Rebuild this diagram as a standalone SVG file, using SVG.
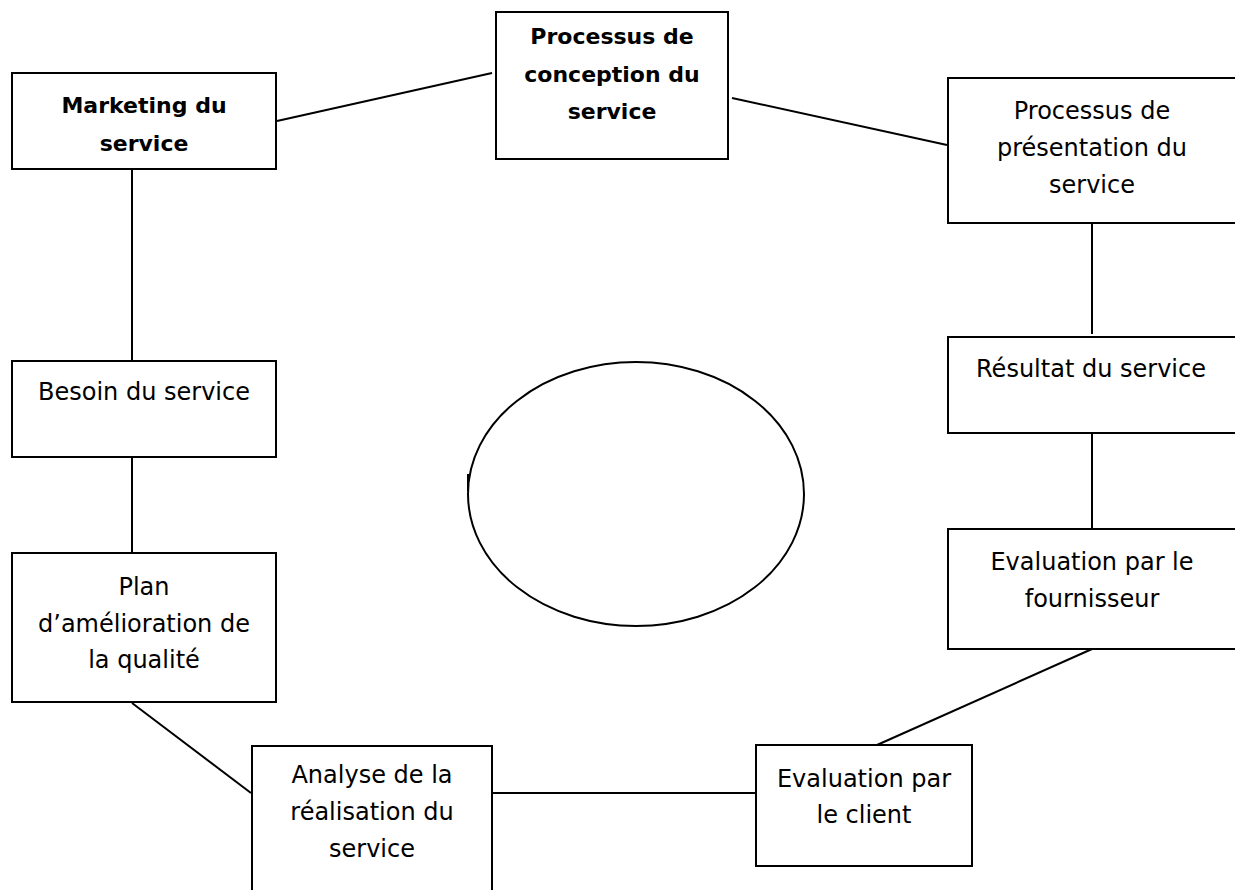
<svg xmlns="http://www.w3.org/2000/svg" width="1235" height="890" viewBox="0 0 1235 890">
  <style>
    .box { fill: #ffffff; stroke: #000000; stroke-width: 2; }
    .conn line, .conn path { stroke: #000000; stroke-width: 2; fill: none; }
    .t { font-family: "Comic Sans MS", "DejaVu Sans", sans-serif; font-size: 24px; fill: #000000; text-anchor: middle; }
    .b { font-weight: bold; font-size: 22px; }
  </style>
  <rect width="1235" height="890" fill="#ffffff"/>

  <g id="connectors" class="conn">
    <line x1="277" y1="121" x2="492" y2="73"/>
    <line x1="732" y1="98" x2="947" y2="145"/>
    <line x1="1092" y1="223" x2="1092" y2="334"/>
    <line x1="1092" y1="433" x2="1092" y2="529"/>
    <line x1="1092" y1="649" x2="877" y2="745"/>
    <line x1="492" y1="793" x2="756" y2="793"/>
    <line x1="132" y1="703" x2="251" y2="793"/>
    <line x1="132" y1="169" x2="132" y2="361"/>
    <line x1="132" y1="457" x2="132" y2="553"/>
  </g>

  <g id="center-ellipse">
    <ellipse cx="636" cy="494" rx="168" ry="132" fill="none" stroke="#000000" stroke-width="2"/>
    <line x1="468" y1="474" x2="468" y2="491" stroke="#000000" stroke-width="2"/>
  </g>

  <g id="marketing">
    <rect class="box" x="12" y="73" width="264" height="96"/>
    <text class="t b" x="144" y="113">Marketing du</text>
    <text class="t b" x="144" y="151">service</text>
  </g>

  <g id="conception">
    <rect class="box" x="496" y="12" width="232" height="147"/>
    <text class="t b" x="612" y="44">Processus de</text>
    <text class="t b" x="612" y="82">conception du</text>
    <text class="t b" x="612" y="119">service</text>
  </g>

  <g id="presentation">
    <rect class="box" x="948" y="78" width="290" height="145"/>
    <text class="t" x="1092" y="119">Processus de</text>
    <text class="t" x="1092" y="156">présentation du</text>
    <text class="t" x="1092" y="193">service</text>
  </g>

  <g id="resultat">
    <rect class="box" x="948" y="337" width="290" height="96"/>
    <text class="t" x="1091" y="377">Résultat du service</text>
  </g>

  <g id="eval-fournisseur">
    <rect class="box" x="948" y="529" width="290" height="120"/>
    <text class="t" x="1092" y="570">Evaluation par le</text>
    <text class="t" x="1092" y="607">fournisseur</text>
  </g>

  <g id="eval-client">
    <rect class="box" x="756" y="745" width="216" height="121"/>
    <text class="t" x="864" y="787">Evaluation par</text>
    <text class="t" x="864" y="823">le client</text>
  </g>

  <g id="analyse">
    <rect class="box" x="252" y="746" width="240" height="160"/>
    <text class="t" x="372" y="783">Analyse de la</text>
    <text class="t" x="372" y="820">réalisation du</text>
    <text class="t" x="372" y="857">service</text>
  </g>

  <g id="plan">
    <rect class="box" x="12" y="553" width="264" height="149"/>
    <text class="t" x="144" y="595">Plan</text>
    <text class="t" x="144" y="632">d’amélioration de</text>
    <text class="t" x="144" y="668">la qualité</text>
  </g>

  <g id="besoin">
    <rect class="box" x="12" y="361" width="264" height="96"/>
    <text class="t" x="144" y="400">Besoin du service</text>
  </g>
</svg>
